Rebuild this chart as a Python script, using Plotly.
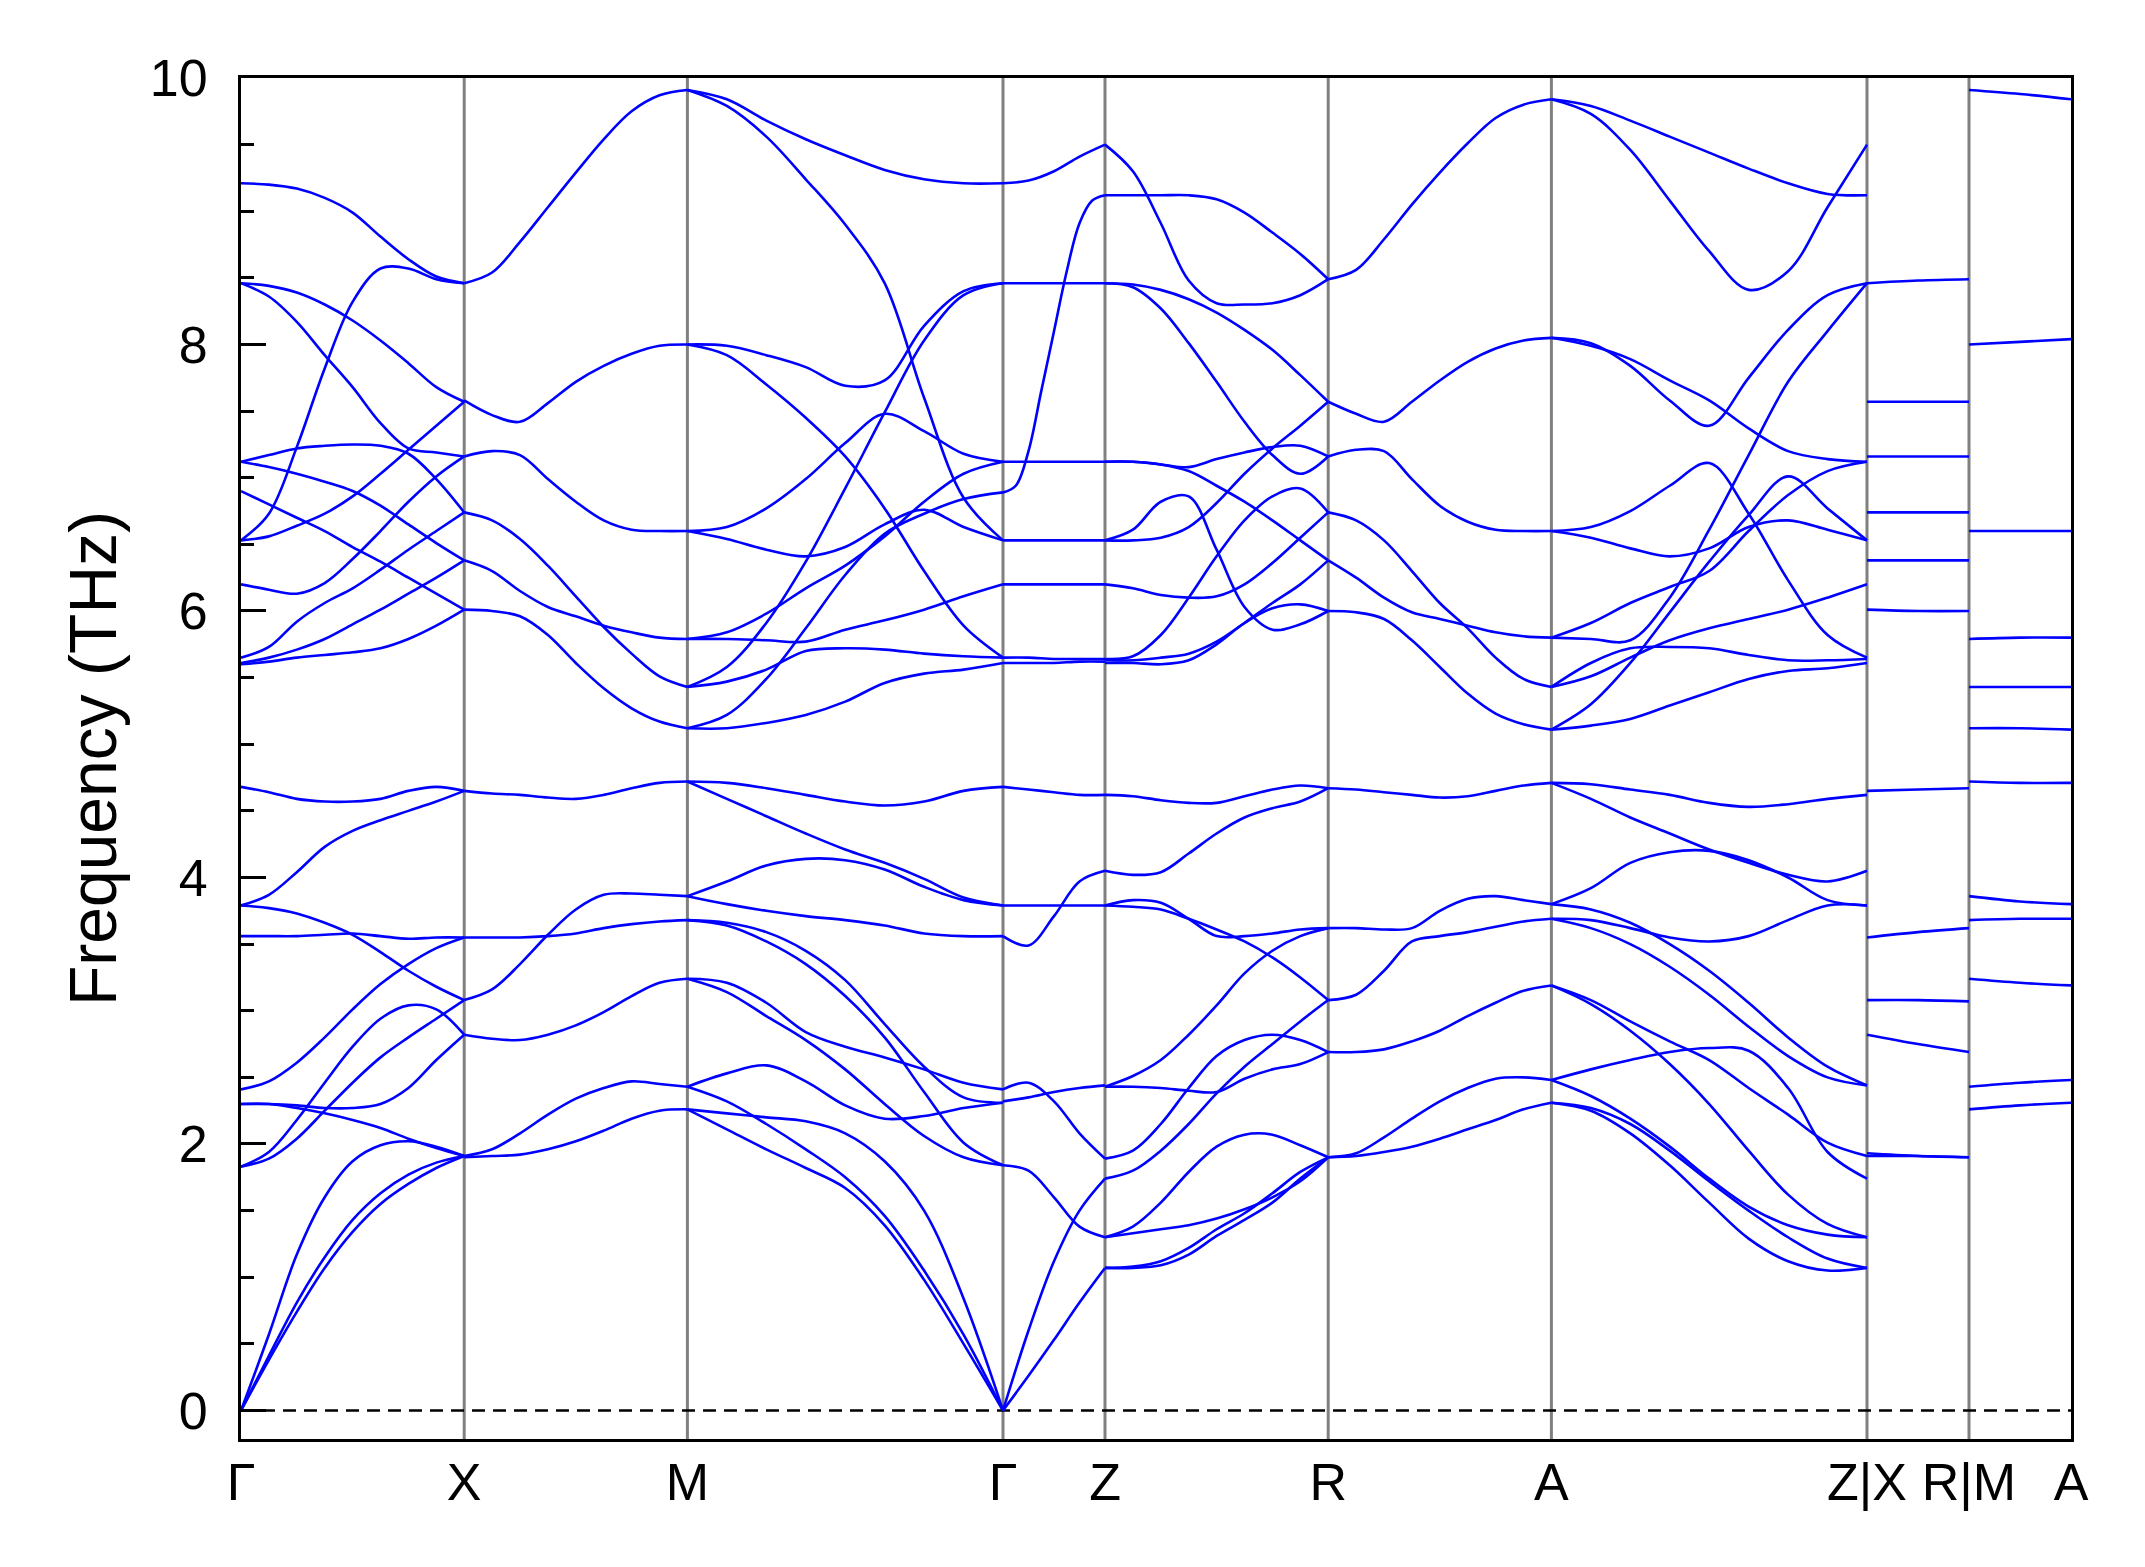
import plotly.graph_objects as go

point_labels = ["Γ", "X", "M", "Γ", "Z", "R", "A", "Z|X", "R|M", "A"]
segment_lengths = [1.0, 1.0, 1.414, 0.457, 1.0, 1.0, 1.414, 0.457, 0.457]

# Γ-X  (9 samples per band)
seg_GX = [
    [9.21, 9.20, 9.17, 9.10, 8.99, 8.81, 8.64, 8.51, 8.46],
    [6.53, 6.73, 7.23, 7.82, 8.32, 8.57, 8.57, 8.49, 8.46],
    [8.46, 8.44, 8.39, 8.30, 8.18, 8.03, 7.86, 7.68, 7.57],
    [8.46, 8.36, 8.17, 7.92, 7.68, 7.41, 7.22, 7.19, 7.16],
    [7.12, 7.17, 7.22, 7.24, 7.25, 7.24, 7.18, 6.99, 6.74],
    [7.12, 7.08, 7.03, 6.97, 6.90, 6.79, 6.65, 6.51, 6.38],
    [6.90, 6.80, 6.70, 6.60, 6.48, 6.37, 6.25, 6.13, 6.01],
    [6.53, 6.56, 6.64, 6.73, 6.86, 7.03, 7.21, 7.39, 7.57],
    [6.20, 6.16, 6.13, 6.21, 6.39, 6.60, 6.82, 7.01, 7.16],
    [5.65, 5.73, 5.92, 6.06, 6.17, 6.31, 6.46, 6.60, 6.74],
    [5.61, 5.65, 5.71, 5.79, 5.90, 6.01, 6.13, 6.25, 6.38],
    [5.60, 5.62, 5.65, 5.67, 5.69, 5.72, 5.79, 5.89, 6.01],
    [4.68, 4.64, 4.59, 4.57, 4.57, 4.59, 4.65, 4.68, 4.65],
    [3.79, 3.87, 4.04, 4.23, 4.35, 4.43, 4.50, 4.57, 4.65],
    [3.79, 3.77, 3.73, 3.66, 3.57, 3.44, 3.30, 3.18, 3.08],
    [3.56, 3.56, 3.56, 3.57, 3.58, 3.56, 3.54, 3.55, 3.55],
    [2.41, 2.47, 2.61, 2.80, 3.01, 3.20, 3.35, 3.47, 3.55],
    [1.83, 1.94, 2.18, 2.46, 2.73, 2.94, 3.04, 3.01, 2.82],
    [1.83, 1.89, 2.04, 2.25, 2.46, 2.65, 2.80, 2.94, 3.08],
    [2.30, 2.30, 2.29, 2.27, 2.27, 2.30, 2.42, 2.63, 2.82],
    [2.30, 2.30, 2.27, 2.23, 2.18, 2.12, 2.04, 1.97, 1.91],
    [0.00, 0.57, 1.17, 1.60, 1.87, 1.99, 2.02, 1.98, 1.91],
    [0.00, 0.41, 0.81, 1.15, 1.43, 1.63, 1.77, 1.86, 1.91],
    [0.00, 0.38, 0.74, 1.07, 1.34, 1.55, 1.70, 1.82, 1.91],
]

# X-M (bands are pairwise degenerate)
seg_XM = [
    [8.46, 8.54, 8.77, 9.03, 9.29, 9.54, 9.75, 9.87, 9.91],
    [7.58, 7.47, 7.42, 7.56, 7.72, 7.84, 7.93, 7.99, 8.00],
    [7.16, 7.20, 7.17, 6.99, 6.82, 6.68, 6.61, 6.60, 6.60],
    [6.74, 6.68, 6.54, 6.34, 6.11, 5.88, 5.68, 5.51, 5.43],
    [6.38, 6.30, 6.15, 6.03, 5.96, 5.89, 5.84, 5.80, 5.79],
    [6.01, 6.00, 5.96, 5.82, 5.61, 5.42, 5.27, 5.17, 5.12],
    [4.65, 4.63, 4.62, 4.60, 4.59, 4.62, 4.67, 4.71, 4.72],
    [3.55, 3.55, 3.55, 3.56, 3.58, 3.62, 3.65, 3.67, 3.68],
    [3.08, 3.16, 3.35, 3.57, 3.76, 3.87, 3.88, 3.87, 3.86],
    [2.82, 2.79, 2.78, 2.82, 2.89, 2.99, 3.11, 3.21, 3.24],
    [1.91, 1.96, 2.08, 2.22, 2.34, 2.42, 2.47, 2.45, 2.43],
    [1.90, 1.91, 1.92, 1.96, 2.02, 2.10, 2.19, 2.25, 2.26],
]

# M-Γ
seg_MG = [
    [9.91, 9.84, 9.68, 9.54, 9.42, 9.31, 9.24, 9.21, 9.21],
    [9.91, 9.79, 9.56, 9.24, 8.90, 8.46, 7.60, 6.85, 6.53],
    [8.00, 7.99, 7.92, 7.83, 7.69, 7.73, 8.14, 8.40, 8.46],
    [8.00, 7.92, 7.70, 7.45, 7.16, 6.77, 6.30, 5.89, 5.65],
    [6.60, 6.63, 6.77, 6.99, 7.26, 7.48, 7.35, 7.18, 7.12],
    [6.60, 6.54, 6.46, 6.41, 6.48, 6.65, 6.76, 6.63, 6.53],
    [5.79, 5.84, 5.98, 6.17, 6.34, 6.56, 6.82, 7.03, 7.12],
    [5.79, 5.79, 5.78, 5.77, 5.86, 5.93, 6.01, 6.11, 6.20],
    [5.43, 5.47, 5.56, 5.70, 5.72, 5.71, 5.68, 5.66, 5.65],
    [5.43, 5.58, 5.91, 6.37, 6.92, 7.49, 8.03, 8.37, 8.46],
    [5.12, 5.22, 5.49, 5.87, 6.27, 6.58, 6.73, 6.84, 6.89],
    [5.12, 5.12, 5.16, 5.22, 5.32, 5.46, 5.53, 5.56, 5.61],
    [4.72, 4.71, 4.67, 4.62, 4.57, 4.54, 4.57, 4.65, 4.68],
    [4.72, 4.59, 4.46, 4.33, 4.21, 4.11, 3.99, 3.85, 3.79],
    [3.86, 3.97, 4.09, 4.14, 4.13, 4.06, 3.93, 3.83, 3.79],
    [3.86, 3.80, 3.75, 3.71, 3.68, 3.64, 3.58, 3.56, 3.56],
    [3.68, 3.66, 3.59, 3.45, 3.23, 2.90, 2.58, 2.35, 2.31],
    [3.68, 3.64, 3.52, 3.35, 3.11, 2.80, 2.39, 2.01, 1.84],
    [3.24, 3.21, 3.06, 2.84, 2.73, 2.65, 2.56, 2.46, 2.41],
    [3.24, 3.14, 2.96, 2.78, 2.56, 2.30, 2.06, 1.90, 1.84],
    [2.43, 2.53, 2.59, 2.47, 2.29, 2.19, 2.21, 2.27, 2.31],
    [2.43, 2.32, 2.15, 1.96, 1.75, 1.46, 1.05, 0.57, 0.00],
    [2.26, 2.23, 2.20, 2.17, 2.08, 1.87, 1.50, 0.84, 0.00],
    [2.26, 2.11, 1.96, 1.82, 1.67, 1.39, 0.98, 0.50, 0.00],
]

# Γ-Z (5 samples per band; the steep band has 9)
seg_GZ = [
    [9.21, 9.23, 9.30, 9.41, 9.50],
    [6.89, 6.94, 7.20, 7.65, 8.10, 8.55, 8.91, 9.08, 9.12],
    [8.46, 8.46, 8.46, 8.46, 8.46],
    [7.12, 7.12, 7.12, 7.12, 7.12],
    [6.53, 6.53, 6.53, 6.53, 6.53],
    [6.20, 6.20, 6.20, 6.20, 6.20],
    [5.65, 5.65, 5.64, 5.64, 5.64],
    [5.61, 5.61, 5.61, 5.62, 5.62],
    [4.68, 4.66, 4.64, 4.62, 4.62],
    [3.79, 3.79, 3.79, 3.79, 3.79],
    [3.56, 3.49, 3.71, 3.97, 4.05],
    [2.41, 2.46, 2.32, 2.08, 1.89],
    [2.32, 2.35, 2.39, 2.42, 2.44],
    [1.84, 1.80, 1.60, 1.38, 1.30],
    [0.00, 0.60, 1.12, 1.50, 1.74],
    [0.00, 0.26, 0.53, 0.81, 1.07],
]

# Z-R
seg_ZR = [
    [9.50, 9.30, 8.91, 8.48, 8.31, 8.30, 8.31, 8.37, 8.49],
    [9.12, 9.12, 9.12, 9.12, 9.09, 8.99, 8.84, 8.68, 8.49],
    [8.46, 8.45, 8.41, 8.34, 8.24, 8.11, 7.96, 7.77, 7.57],
    [8.46, 8.43, 8.27, 8.01, 7.72, 7.42, 7.17, 7.03, 7.16],
    [7.12, 7.12, 7.10, 7.08, 7.14, 7.19, 7.23, 7.24, 7.16],
    [7.12, 7.12, 7.10, 7.05, 6.94, 6.82, 6.68, 6.53, 6.38],
    [6.53, 6.61, 6.82, 6.86, 6.46, 6.03, 5.86, 5.90, 6.00],
    [6.53, 6.53, 6.55, 6.63, 6.81, 7.03, 7.22, 7.39, 7.57],
    [6.20, 6.17, 6.12, 6.10, 6.11, 6.20, 6.36, 6.55, 6.74],
    [5.64, 5.66, 5.82, 6.10, 6.41, 6.68, 6.86, 6.92, 6.74],
    [5.63, 5.63, 5.65, 5.68, 5.77, 5.91, 6.06, 6.20, 6.38],
    [5.61, 5.61, 5.60, 5.63, 5.75, 5.91, 6.02, 6.05, 6.00],
    [4.62, 4.61, 4.58, 4.56, 4.56, 4.61, 4.66, 4.69, 4.67],
    [4.05, 4.02, 4.04, 4.18, 4.33, 4.45, 4.52, 4.57, 4.67],
    [3.79, 3.83, 3.81, 3.69, 3.56, 3.56, 3.58, 3.61, 3.62],
    [3.79, 3.78, 3.76, 3.69, 3.61, 3.52, 3.40, 3.25, 3.08],
    [2.43, 2.51, 2.63, 2.82, 3.04, 3.28, 3.45, 3.56, 3.62],
    [2.43, 2.43, 2.42, 2.40, 2.39, 2.49, 2.56, 2.60, 2.69],
    [1.89, 1.95, 2.15, 2.42, 2.66, 2.78, 2.82, 2.78, 2.69],
    [1.74, 1.80, 1.95, 2.15, 2.38, 2.58, 2.75, 2.92, 3.08],
    [1.30, 1.38, 1.56, 1.79, 1.98, 2.07, 2.07, 1.99, 1.90],
    [1.30, 1.33, 1.36, 1.39, 1.44, 1.51, 1.60, 1.72, 1.90],
    [1.07, 1.08, 1.12, 1.22, 1.36, 1.48, 1.63, 1.79, 1.90],
    [1.07, 1.07, 1.09, 1.17, 1.31, 1.43, 1.56, 1.74, 1.90],
]

# R-A (bands are pairwise degenerate)
seg_RA = [
    [8.49, 8.56, 8.79, 9.05, 9.29, 9.51, 9.70, 9.80, 9.84],
    [7.57, 7.48, 7.42, 7.57, 7.73, 7.87, 7.97, 8.03, 8.05],
    [7.16, 7.21, 7.20, 6.99, 6.79, 6.67, 6.61, 6.60, 6.60],
    [6.74, 6.68, 6.53, 6.30, 6.06, 5.87, 5.65, 5.49, 5.43],
    [6.38, 6.25, 6.10, 5.99, 5.94, 5.89, 5.84, 5.81, 5.80],
    [6.00, 5.99, 5.94, 5.78, 5.58, 5.38, 5.23, 5.15, 5.11],
    [4.67, 4.66, 4.64, 4.62, 4.60, 4.61, 4.65, 4.69, 4.71],
    [3.62, 3.62, 3.61, 3.62, 3.75, 3.84, 3.86, 3.83, 3.80],
    [3.08, 3.12, 3.30, 3.52, 3.56, 3.59, 3.63, 3.67, 3.69],
    [2.69, 2.69, 2.71, 2.77, 2.85, 2.96, 3.06, 3.15, 3.19],
    [1.90, 1.93, 2.05, 2.19, 2.32, 2.42, 2.49, 2.50, 2.48],
    [1.90, 1.91, 1.94, 1.98, 2.04, 2.11, 2.18, 2.26, 2.31],
]

# A-Z
seg_AZ = [
    [9.84, 9.79, 9.68, 9.56, 9.44, 9.32, 9.21, 9.13, 9.12],
    [9.84, 9.73, 9.46, 9.08, 8.70, 8.41, 8.55, 9.03, 9.50],
    [8.05, 8.01, 7.84, 7.58, 7.39, 7.75, 8.11, 8.37, 8.46],
    [8.05, 7.99, 7.89, 7.73, 7.58, 7.37, 7.20, 7.14, 7.12],
    [6.60, 6.63, 6.75, 6.94, 7.11, 6.73, 6.23, 5.82, 5.65],
    [6.60, 6.55, 6.47, 6.41, 6.47, 6.63, 6.68, 6.61, 6.53],
    [5.80, 5.79, 5.78, 6.10, 6.61, 7.17, 7.72, 8.10, 8.46],
    [5.80, 5.91, 6.06, 6.18, 6.30, 6.60, 6.87, 7.05, 7.12],
    [5.43, 5.61, 5.72, 5.73, 5.72, 5.67, 5.63, 5.63, 5.64],
    [5.43, 5.51, 5.65, 5.78, 5.87, 5.94, 6.01, 6.10, 6.20],
    [5.11, 5.30, 5.61, 5.99, 6.37, 6.72, 7.01, 6.77, 6.53],
    [5.11, 5.14, 5.19, 5.29, 5.39, 5.49, 5.55, 5.57, 5.61],
    [4.71, 4.70, 4.66, 4.62, 4.56, 4.53, 4.55, 4.59, 4.62],
    [4.71, 4.59, 4.45, 4.33, 4.21, 4.11, 4.02, 3.97, 4.05],
    [3.80, 3.92, 4.11, 4.19, 4.20, 4.13, 4.00, 3.83, 3.79],
    [3.69, 3.68, 3.62, 3.55, 3.52, 3.56, 3.68, 3.79, 3.79],
    [3.80, 3.76, 3.66, 3.50, 3.30, 3.06, 2.80, 2.58, 2.44],
    [3.69, 3.62, 3.50, 3.33, 3.12, 2.88, 2.66, 2.50, 2.44],
    [3.19, 3.08, 2.92, 2.77, 2.63, 2.42, 2.22, 2.01, 1.91],
    [3.19, 3.05, 2.85, 2.60, 2.30, 1.95, 1.62, 1.40, 1.30],
    [2.48, 2.56, 2.63, 2.69, 2.72, 2.70, 2.42, 1.94, 1.74],
    [2.48, 2.36, 2.19, 1.98, 1.74, 1.53, 1.39, 1.32, 1.30],
    [2.31, 2.25, 2.08, 1.84, 1.56, 1.29, 1.12, 1.05, 1.07],
    [2.31, 2.27, 2.15, 1.95, 1.72, 1.50, 1.30, 1.14, 1.07],
]

# X-R (3 samples per band)
seg_XR = [
    [8.46, 8.48, 8.49], [7.57, 7.57, 7.57], [7.16, 7.16, 7.16],
    [6.74, 6.74, 6.74], [6.38, 6.38, 6.38], [6.01, 6.00, 6.00],
    [4.65, 4.66, 4.67], [3.55, 3.59, 3.62], [3.08, 3.08, 3.07],
    [2.82, 2.75, 2.69], [1.91, 1.91, 1.90], [1.93, 1.91, 1.90],
]

# M-A (3 samples per band)
seg_MA = [
    [9.91, 9.88, 9.84], [8.00, 8.02, 8.04], [6.60, 6.60, 6.60],
    [5.79, 5.80, 5.80], [5.43, 5.43, 5.43], [5.12, 5.12, 5.11],
    [4.72, 4.71, 4.71], [3.86, 3.82, 3.80], [3.68, 3.69, 3.69],
    [3.24, 3.21, 3.19], [2.43, 2.46, 2.48], [2.26, 2.29, 2.31],
]

segments = [seg_GX, seg_XM, seg_MG, seg_GZ, seg_ZR, seg_RA, seg_AZ, seg_XR, seg_MA]

# k-path positions of the high-symmetry points
tick_pos = [0.0]
for L in segment_lengths:
    tick_pos.append(tick_pos[-1] + L)

fig = go.Figure()
for seg, x0, L in zip(segments, tick_pos[:-1], segment_lengths):
    xs, ys = [], []
    for band in seg:
        n = len(band)
        xs += [x0 + L * j / (n - 1) for j in range(n)] + [None]
        ys += list(band) + [None]
    fig.add_trace(go.Scatter(
        x=xs, y=ys, mode="lines",
        line=dict(color="#0000ff", width=2.6, shape="spline", smoothing=1.0),
        hoverinfo="skip", showlegend=False, connectgaps=False,
    ))

shapes = []
for xp in tick_pos[1:-1]:
    shapes.append(dict(type="line", xref="x", yref="paper", x0=xp, x1=xp, y0=0, y1=1,
                       line=dict(color="#808080", width=3), layer="below"))
shapes.append(dict(type="line", xref="paper", yref="y", x0=0, x1=1, y0=0, y1=0,
                   line=dict(color="black", width=2.7, dash="13px,8px"), layer="below"))

font_family = "Liberation Sans, Arial, sans-serif"
fig.update_layout(
    width=2137, height=1559,
    margin=dict(l=233, r=74, t=70, b=128, autoexpand=False),
    paper_bgcolor="white", plot_bgcolor="white",
    shapes=shapes,
    font=dict(family=font_family, color="black", size=52),
    xaxis=dict(
        range=[tick_pos[0], tick_pos[-1]],
        tickmode="array", tickvals=tick_pos, ticktext=point_labels,
        ticks="", showgrid=False, zeroline=False,
        showline=True, mirror=True, linecolor="black", linewidth=3,
        tickfont=dict(size=52, family=font_family, color="black"),
        ticklabelstandoff=-4,
        automargin=False,
    ),
    yaxis=dict(
        range=[-0.214, 10],
        tick0=0, dtick=2, ticks="inside", ticklen=25, tickwidth=2.5, tickcolor="black",
        minor=dict(dtick=0.5, ticks="inside", ticklen=13, tickwidth=2.5, tickcolor="black", showgrid=False),
        showgrid=False, zeroline=False,
        showline=True, mirror=True, linecolor="black", linewidth=3,
        tickfont=dict(size=52, family=font_family, color="black"),
        ticklabelstandoff=20,
        title=dict(text="Frequency (THz)", font=dict(size=66, family=font_family, color="black"), standoff=12),
        automargin=False,
    ),
)

fig.write_html("out.html")
